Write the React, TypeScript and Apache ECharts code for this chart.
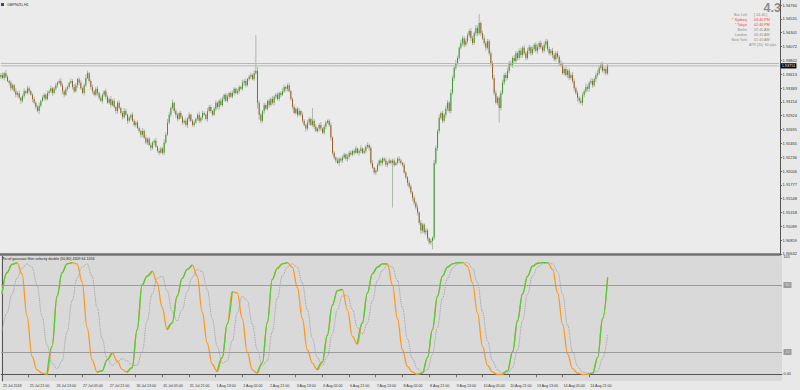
import React, { useEffect, useRef } from 'react';
import * as echarts from 'echarts';

// ---------- texts ----------
const symbolTitle = 'GBPNZD,H1';
const indicatorTitle = 'Rsi of gaussian filter velocity double (50,80) 4309 64.1094';
const versionText = '4.3';
const infoLabels = ['Bar Left', '* Sydney', '* Tokyo', 'Berlin', 'London', 'New York'];
const infoValues = ['[ 14:40 ]', '03:40 PM', '02:40 PM', '07:40 AM', '06:40 AM', '01:40 AM'];
const infoRed = [false, true, true, false, false, false];
const atrText = 'ATR (20): 60 pips';

// ---------- axes ----------
const timeLabels = ['25 Jul 2018', '25 Jul 21:00', '26 Jul 13:00', '27 Jul 05:00', '27 Jul 21:00', '30 Jul 13:00',
  '31 Jul 05:00', '31 Jul 21:00', '1 Aug 13:00', '2 Aug 05:00', '2 Aug 21:00', '3 Aug 13:00', '6 Aug 05:00',
  '6 Aug 21:00', '7 Aug 13:00', '8 Aug 05:00', '8 Aug 21:00', '9 Aug 13:00', '10 Aug 05:00', '10 Aug 21:00',
  '13 Aug 13:00', '14 Aug 05:00', '14 Aug 21:00'];
const barsPerLabel = 16;
const slotCount = 468;
const priceTicks = [1.94760, 1.94531, 1.94301, 1.94072, 1.93842, 1.93613, 1.93383, 1.93154, 1.92924, 1.92695,
  1.92465, 1.92236, 1.92006, 1.91777, 1.91548, 1.91318, 1.91089, 1.90859, 1.90632];
const priceMin = 1.90630;
const priceMax = 1.94843;
const indicatorTicks = [0, 20, 80, 105];
const indicatorLevels = [80, 20];
const indicatorMin = -6;
const indicatorMax = 106;

// ---------- price data (H1 bars) ----------
const firstOpen = 1.9356;
const closes = [
  1.9360, 1.9355, 1.9363, 1.9357, 1.9350, 1.9347, 1.9338, 1.9343, 1.9333, 1.9327, 1.9330, 1.9322,
  1.9317, 1.9325, 1.9333, 1.9330, 1.9338, 1.9333, 1.9327, 1.9320, 1.9314, 1.9307, 1.9300, 1.9309,
  1.9317, 1.9322, 1.9327, 1.9320, 1.9330, 1.9333, 1.9338, 1.9330, 1.9337, 1.9343, 1.9347, 1.9350,
  1.9343, 1.9333, 1.9327, 1.9337, 1.9340, 1.9347, 1.9350, 1.9340, 1.9333, 1.9343, 1.9353, 1.9347,
  1.9338, 1.9330, 1.9343, 1.9355, 1.9363, 1.9350, 1.9340, 1.9333, 1.9327, 1.9337, 1.9330, 1.9322,
  1.9317, 1.9327, 1.9333, 1.9324, 1.9314, 1.9320, 1.9310, 1.9317, 1.9307, 1.9300, 1.9314, 1.9305,
  1.9297, 1.9290, 1.9300, 1.9294, 1.9284, 1.9289, 1.9294, 1.9284, 1.9277, 1.9281, 1.9272, 1.9267,
  1.9261, 1.9267, 1.9256, 1.9248, 1.9254, 1.9244, 1.9239, 1.9248, 1.9251, 1.9241, 1.9234, 1.9231,
  1.9238, 1.9231, 1.9248, 1.9261, 1.9281, 1.9294, 1.9305, 1.9314, 1.9300, 1.9294, 1.9287, 1.9297,
  1.9290, 1.9281, 1.9284, 1.9277, 1.9287, 1.9294, 1.9284, 1.9277, 1.9281, 1.9287, 1.9294, 1.9284,
  1.9289, 1.9297, 1.9294, 1.9287, 1.9300, 1.9307, 1.9300, 1.9294, 1.9304, 1.9314, 1.9307, 1.9317,
  1.9310, 1.9320, 1.9327, 1.9317, 1.9324, 1.9330, 1.9324, 1.9330, 1.9337, 1.9330, 1.9333, 1.9340,
  1.9337, 1.9347, 1.9350, 1.9343, 1.9353, 1.9357, 1.9360, 1.9353, 1.9363, 1.9367, 1.9314, 1.9294,
  1.9284, 1.9300, 1.9310, 1.9304, 1.9317, 1.9310, 1.9320, 1.9314, 1.9324, 1.9327, 1.9320, 1.9330,
  1.9327, 1.9333, 1.9340, 1.9337, 1.9343, 1.9333, 1.9320, 1.9307, 1.9297, 1.9304, 1.9294, 1.9300,
  1.9294, 1.9284, 1.9277, 1.9271, 1.9281, 1.9287, 1.9277, 1.9284, 1.9274, 1.9267, 1.9271, 1.9277,
  1.9271, 1.9264, 1.9274, 1.9281, 1.9284, 1.9277, 1.9256, 1.9231, 1.9223, 1.9218, 1.9214, 1.9221,
  1.9218, 1.9223, 1.9228, 1.9221, 1.9224, 1.9231, 1.9228, 1.9234, 1.9231, 1.9238, 1.9231, 1.9234,
  1.9238, 1.9231, 1.9234, 1.9241, 1.9244, 1.9239, 1.9214, 1.9206, 1.9198, 1.9201, 1.9211, 1.9218,
  1.9214, 1.9221, 1.9218, 1.9211, 1.9214, 1.9218, 1.9214, 1.9218, 1.9211, 1.9214, 1.9221, 1.9218,
  1.9214, 1.9211, 1.9198, 1.9190, 1.9181, 1.9175, 1.9165, 1.9156, 1.9148, 1.9140, 1.9132, 1.9115,
  1.9102, 1.9112, 1.9099, 1.9102, 1.9089, 1.9082, 1.9085, 1.9090, 1.9214, 1.9239, 1.9267, 1.9289,
  1.9297, 1.9284, 1.9294, 1.9304, 1.9314, 1.9300, 1.9330, 1.9355, 1.9372, 1.9380, 1.9388, 1.9405,
  1.9413, 1.9421, 1.9410, 1.9416, 1.9426, 1.9433, 1.9421, 1.9413, 1.9429, 1.9438, 1.9429, 1.9446,
  1.9429, 1.9421, 1.9413, 1.9405, 1.9416, 1.9396, 1.9380, 1.9355, 1.9330, 1.9314, 1.9322, 1.9305,
  1.9330, 1.9347, 1.9360, 1.9355, 1.9367, 1.9380, 1.9377, 1.9388, 1.9383, 1.9396, 1.9388, 1.9400,
  1.9393, 1.9405, 1.9396, 1.9388, 1.9400, 1.9406, 1.9396, 1.9403, 1.9410, 1.9400, 1.9406, 1.9413,
  1.9406, 1.9400, 1.9410, 1.9416, 1.9403, 1.9396, 1.9400, 1.9393, 1.9386, 1.9396, 1.9390, 1.9380,
  1.9377, 1.9363, 1.9370, 1.9360, 1.9367, 1.9355, 1.9360, 1.9350, 1.9338, 1.9330, 1.9322, 1.9317,
  1.9314, 1.9327, 1.9333, 1.9340, 1.9337, 1.9347, 1.9350, 1.9343, 1.9353, 1.9360, 1.9363, 1.9372,
  1.9377, 1.9367, 1.9370, 1.9363, 1.93751,
];
// wick lengths in pips above / below the body
const upperWick = [
  3, 4, 2, 5, 3, 2, 4, 3, 2, 5, 3, 4, 2, 3, 5, 2, 4, 3, 2, 3,
  4, 2, 3, 5, 2, 4, 3, 2, 4, 3, 5, 2, 3, 4, 2, 3, 5, 4, 2, 3,
  3, 2, 4, 3, 5, 4, 2, 3, 4, 2, 3, 6, 4, 2, 3, 4, 2, 3, 5, 2,
  4, 3, 2, 4, 3, 2, 5, 3, 4, 2, 3, 4, 2, 3, 5, 4, 2, 3, 2, 4,
  3, 2, 4, 3, 2, 5, 3, 4, 2, 3, 4, 2, 3, 5, 2, 4, 3, 2, 5, 4,
  6, 4, 3, 5, 2, 4, 3, 2, 4, 3, 2, 5, 3, 4, 2, 3, 4, 2, 3, 5,
  2, 4, 3, 2, 5, 3, 4, 2, 3, 4, 2, 3, 5, 4, 2, 3, 4, 2, 3, 4,
  3, 2, 4, 3, 2, 5, 3, 4, 2, 3, 4, 2, 5, 59, 6, 4, 3, 2, 4, 3,
  2, 4, 3, 5, 2, 3, 4, 2, 3, 5, 4, 2, 3, 4, 2, 3, 4, 2, 3, 5,
  2, 4, 3, 2, 4, 3, 2, 21, 3, 4, 2, 3, 5, 2, 4, 3, 2, 3, 4, 2,
  3, 2, 4, 3, 2, 4, 3, 2, 5, 3, 4, 2, 3, 4, 2, 3, 5, 2, 4, 3,
  4, 2, 3, 5, 2, 4, 3, 2, 4, 3, 2, 5, 3, 4, 2, 3, 4, 2, 3, 4,
  3, 2, 4, 3, 2, 4, 3, 2, 4, 3, 5, 2, 4, 3, 2, 4, 3, 2, 3, 2,
  5, 4, 3, 5, 2, 4, 3, 5, 4, 3, 6, 4, 3, 5, 4, 3, 6, 4, 3, 5,
  4, 3, 5, 4, 3, 5, 4, 15, 3, 4, 5, 3, 4, 3, 4, 3, 5, 4, 3, 4,
  4, 5, 3, 4, 5, 3, 4, 3, 5, 4, 3, 4, 5, 3, 4, 3, 5, 4, 3, 4,
  3, 4, 5, 3, 4, 3, 5, 4, 3, 4, 3, 5, 4, 3, 4, 3, 5, 4, 3, 4,
  3, 4, 3, 5, 4, 3, 4, 3, 5, 4, 3, 6, 4, 3, 5, 4, 3, 4, 6, 3,
  4, 5, 3, 4, 3,
];
const lowerWick = [
  3, 2, 4, 3, 2, 4, 5, 3, 2, 4, 3, 2, 5, 3, 4, 2, 3, 4, 2, 5,
  3, 4, 2, 5, 3, 2, 4, 3, 2, 4, 3, 5, 2, 3, 4, 2, 3, 5, 4, 2,
  4, 3, 2, 4, 3, 2, 5, 4, 3, 2, 4, 3, 2, 3, 5, 4, 2, 3, 4, 3,
  2, 4, 3, 5, 2, 3, 4, 2, 3, 5, 4, 2, 3, 4, 3, 2, 5, 3, 4, 2,
  3, 4, 2, 3, 5, 4, 2, 3, 4, 2, 5, 3, 4, 2, 3, 4, 2, 3, 4, 3,
  2, 3, 4, 2, 3, 5, 4, 2, 3, 4, 2, 3, 5, 4, 2, 3, 4, 2, 3, 4,
  3, 4, 2, 3, 5, 2, 4, 3, 2, 4, 3, 5, 2, 3, 4, 2, 3, 4, 2, 3,
  4, 2, 3, 4, 2, 3, 5, 4, 2, 3, 4, 2, 3, 3, 10, 8, 4, 3, 5, 2,
  3, 4, 2, 3, 5, 4, 2, 3, 4, 2, 3, 5, 4, 2, 3, 4, 2, 3, 4, 2,
  3, 4, 2, 5, 3, 4, 2, 3, 4, 2, 3, 5, 4, 2, 3, 4, 2, 3, 5, 4,
  3, 4, 2, 5, 3, 4, 2, 3, 5, 4, 2, 3, 4, 2, 3, 5, 4, 2, 3, 4,
  3, 5, 4, 2, 3, 4, 2, 3, 5, 4, 2, 3, 4, 2, 3, 74, 4, 2, 3, 4,
  3, 4, 2, 3, 5, 4, 3, 5, 4, 3, 5, 4, 6, 4, 3, 5, 4, 3, 4, 14,
  4, 3, 5, 4, 3, 4, 3, 5, 4, 3, 4, 3, 5, 4, 3, 4, 3, 5, 4, 3,
  4, 3, 5, 4, 3, 4, 5, 3, 4, 3, 4, 5, 3, 4, 5, 3, 4, 3, 4, 24,
  4, 3, 4, 5, 3, 4, 3, 5, 4, 3, 4, 3, 5, 4, 3, 4, 3, 5, 4, 3,
  4, 3, 5, 4, 3, 4, 3, 5, 4, 3, 4, 5, 3, 4, 3, 5, 4, 3, 4, 3,
  5, 4, 3, 4, 5, 3, 6, 4, 3, 5, 4, 3, 4, 5, 3, 4, 3, 5, 4, 3,
  4, 3, 5, 4, 3,
];
const pip = 0.0001;
const bidPrice = 1.93751;
const askPrice = 1.93790;

// ---------- indicator data (one value every 3 bars) ----------
const rsiStep = 3;
const rsiMain = [
  72, 91, 98.5, 100, 90, 52, 16, 4, 1, 0,
  25, 70, 91, 99, 100, 99, 83, 42, 13, 2,
  3, 13, 19.5, 12, 4.5, 2, 6, 40, 80, 88,
  92.5, 82, 60, 40, 46, 70, 86, 94, 98, 88,
  56, 28, 9, 2.5, 15, 45, 74, 73, 50, 20,
  4, 1, 10, 46, 85, 95, 99, 100, 96, 78,
  50, 22, 10, 4, 11, 35, 62, 75, 76, 58,
  34, 27, 46, 73, 90, 96, 99, 99, 80, 50,
  22, 7, 2, 0, 1, 15, 40, 70, 88, 96,
  99, 100, 100, 97, 82, 55, 25, 8, 2, 0,
  0, 3, 20, 48, 72, 88, 97, 99.5, 100, 100,
  94, 73, 45, 18, 5, 1, 0, 0, 1, 15,
  50, 87,
];
const rsiSignal = [
  38, 55, 72, 86, 95, 99, 96, 80, 52, 26,
  10, 5, 12, 38, 66, 86, 96, 99, 88, 60,
  32, 14, 8, 11, 14, 12, 8, 8, 20, 48,
  72, 86, 88, 75, 56, 48, 58, 74, 87, 94,
  92, 76, 50, 25, 10, 12, 30, 55, 70, 66,
  45, 22, 8, 12, 38, 68, 88, 96, 99, 96,
  82, 58, 32, 15, 8, 16, 36, 58, 70, 71,
  58, 42, 36, 46, 66, 84, 93, 98, 96, 84,
  60, 32, 14, 5, 2, 4, 18, 42, 68, 86,
  95, 99, 100, 100, 95, 82, 56, 30, 12, 4,
  1, 1, 6, 22, 48, 72, 88, 96, 99, 100,
  99, 92, 72, 44, 20, 7, 2, 1, 1, 3,
  14, 36,
];

// ---------- styles ----------
const FONT = '"Liberation Sans", Arial, sans-serif';
const bullColor = '#3f9a2f';
const bearColor = '#9e5f27';
const wickColor = '#a3b59f';
const upLineColor = '#4ccf3c';
const downLineColor = '#ff9a1e';

export default function App() {
  const ref = useRef<HTMLDivElement>(null);

  useEffect(() => {
    document.body.style.margin = '0';
    const chart = echarts.init(ref.current!, undefined, { renderer: 'svg' });

    const categories = Array.from({ length: slotCount }, (_, i) => String(i));
    const isLabelSlot = (i: number) => i % barsPerLabel === 0 && i / barsPerLabel < timeLabels.length;

    const candles = closes.map((c, i) => {
      const o = i === 0 ? firstOpen : closes[i - 1];
      const h = Math.max(o, c) + (upperWick[i] || 0) * pip;
      const l = Math.min(o, c) - (lowerWick[i] || 0) * pip;
      return [i, o, c, l, h];
    });

    const mainPts = rsiMain.map((v, k) => [k * rsiStep, v]);
    const dirs: boolean[] = [];
    let prev = true;
    for (let k = 0; k < rsiMain.length - 1; k++) {
      const d = rsiMain[k + 1] > rsiMain[k] ? true : rsiMain[k + 1] < rsiMain[k] ? false : prev;
      dirs.push(d);
      prev = d;
    }
    const greenPts = rsiMain.map((v, k) =>
      (dirs[k - 1] === true || dirs[k] === true) ? [k * rsiStep, v] : [k * rsiStep, '-']);
    const signalPts = rsiSignal.map((v, k) => [k * rsiStep, v]);

    const graphic: any[] = [
      { type: 'rect', shape: { x: 1, y: 3, width: 3, height: 3 }, style: { fill: '#4a4a4a' } },
      { type: 'text', x: 7, y: 4.5, style: { text: symbolTitle, fontSize: 3.8, fill: '#333', verticalAlign: 'middle', fontFamily: FONT } },
      { type: 'text', x: 2, y: 259, style: { text: indicatorTitle, fontSize: 3.6, fill: '#222', verticalAlign: 'middle', fontFamily: FONT } },
      { type: 'text', x: 781, y: 7.5, style: { text: versionText, fontSize: 12.5, fontWeight: 'bold', fill: '#8c8c8c', align: 'right', verticalAlign: 'middle', fontFamily: FONT } },
      { type: 'text', x: 749, y: 45, style: { text: atrText, fontSize: 3.5, fill: '#8c8c8c', verticalAlign: 'middle', fontFamily: FONT } },
    ];
    infoLabels.forEach((lab, k) => {
      const fill = infoRed[k] ? '#ff3c3c' : '#8c8c8c';
      graphic.push({ type: 'text', x: 747, y: 15 + k * 5, style: { text: lab, fontSize: 3.7, fill, align: 'right', verticalAlign: 'middle', fontFamily: FONT } });
      graphic.push({ type: 'text', x: 754, y: 15 + k * 5, style: { text: infoValues[k], fontSize: 3.7, fill, verticalAlign: 'middle', fontFamily: FONT } });
    });

    const flat = (v: number) => categories.map(() => v);

    const option: any = {
      animation: false,
      backgroundColor: '#e8e8e8',
      textStyle: { fontFamily: FONT },
      grid: [
        { left: 0, top: 0, width: 782, height: 254, show: true, backgroundColor: '#ebebeb', borderWidth: 0 },
        { left: 0, top: 256, width: 782, height: 125, show: true, backgroundColor: '#d9d9d9', borderWidth: 0 },
      ],
      xAxis: [
        {
          type: 'category', gridIndex: 0, data: categories, boundaryGap: true,
          axisLine: { show: true, lineStyle: { color: '#707070', width: 2.5 } },
          axisTick: { show: false }, axisLabel: { show: false }, splitLine: { show: false },
        },
        {
          type: 'category', gridIndex: 1, data: categories, boundaryGap: true,
          axisLine: { show: true, lineStyle: { color: '#555', width: 1 } },
          axisTick: { show: true, interval: (i: number) => isLabelSlot(i), alignWithLabel: true, length: 3, lineStyle: { color: '#555', width: 0.8 } },
          axisLabel: {
            show: true, interval: (i: number) => isLabelSlot(i),
            formatter: (v: string) => timeLabels[Number(v) / barsPerLabel] ?? '',
            align: 'left', fontSize: 3.6, color: '#333', margin: 2.5, padding: [0, 0, 0, 1],
          },
          splitLine: { show: false },
        },
        { type: 'value', gridIndex: 1, min: -0.5, max: slotCount - 0.5, show: false },
      ],
      yAxis: [
        {
          type: 'value', gridIndex: 0, position: 'right', min: priceMin, max: priceMax,
          axisLine: { show: true, lineStyle: { color: '#555', width: 1 } },
          axisTick: { show: true, customValues: priceTicks, length: 2, lineStyle: { color: '#555', width: 0.8 } },
          axisLabel: { customValues: priceTicks, formatter: (v: number) => v.toFixed(5), fontSize: 4, color: '#333', margin: 2.5 },
          splitLine: { show: false },
        },
        {
          type: 'value', gridIndex: 1, position: 'right', min: indicatorMin, max: indicatorMax,
          axisLine: { show: true, lineStyle: { color: '#555', width: 1 } },
          axisTick: { show: true, customValues: [0, 105], length: 2, lineStyle: { color: '#555', width: 0.8 } },
          axisLabel: {
            customValues: indicatorTicks,
            formatter: (v: number) => v === 0 ? '0.00' : v === 105 ? '105' : '{box|' + v + '}',
            fontSize: 3.8, color: '#333', margin: 1.5,
            rich: { box: { backgroundColor: '#9d9d9d', color: '#dedede', fontSize: 3.6, padding: [1, 2, 1, 2] } },
          },
          splitLine: { show: false },
        },
      ],
      series: [
        {
          type: 'line', name: 'ask', xAxisIndex: 0, yAxisIndex: 0, data: flat(askPrice),
          showSymbol: false, silent: true, lineStyle: { color: '#b4b4b4', width: 1 },
        },
        {
          type: 'line', name: 'bid', xAxisIndex: 0, yAxisIndex: 0, data: flat(bidPrice),
          showSymbol: false, silent: true, lineStyle: { color: '#b4b4b4', width: 1 },
          endLabel: {
            show: true, formatter: bidPrice.toFixed(5), distance: 1.5,
            backgroundColor: '#000', color: '#fff', fontSize: 3.8, padding: [0.6, 1, 0.6, 1],
          },
        },
        {
          type: 'custom', name: 'price', xAxisIndex: 0, yAxisIndex: 0,
          data: candles, encode: { x: 0, y: [1, 2, 3, 4] },
          renderItem: (_p: any, api: any) => {
            const idx = api.value(0);
            const o = api.value(1), c = api.value(2), l = api.value(3), h = api.value(4);
            const pO = api.coord([idx, o]);
            const pC = api.coord([idx, c]);
            const pL = api.coord([idx, l]);
            const pH = api.coord([idx, h]);
            const x = pO[0];
            const bw = Math.max(1, api.size([1, 0])[0] * 0.62);
            const top = Math.min(pO[1], pC[1]);
            const hgt = Math.max(0.8, Math.abs(pO[1] - pC[1]));
            return {
              type: 'group',
              children: [
                { type: 'line', shape: { x1: x, y1: pH[1], x2: x, y2: pL[1] }, style: { stroke: wickColor, lineWidth: 0.9 } },
                { type: 'rect', shape: { x: x - bw / 2, y: top, width: bw, height: hgt }, style: { fill: c >= o ? bullColor : bearColor } },
              ],
            };
          },
        },
        {
          type: 'line', name: 'signal', xAxisIndex: 2, yAxisIndex: 1, data: signalPts,
          smooth: 0.4, smoothMonotone: 'x', showSymbol: false, silent: true,
          lineStyle: { color: '#9a9a9a', width: 0.9, type: 'dotted' },
          markLine: {
            silent: true, symbol: 'none', animation: false, label: { show: false },
            lineStyle: { color: '#9c9c9c', width: 1, type: 'solid' },
            data: indicatorLevels.map((v) => ({ yAxis: v })),
          },
        },
        {
          type: 'line', name: 'down', xAxisIndex: 2, yAxisIndex: 1, data: mainPts,
          smooth: 0.4, smoothMonotone: 'x', showSymbol: false, silent: true,
          lineStyle: { color: downLineColor, width: 1.3 },
        },
        {
          type: 'line', name: 'up', xAxisIndex: 2, yAxisIndex: 1, data: greenPts,
          smooth: 0.4, smoothMonotone: 'x', showSymbol: false, silent: true, connectNulls: false,
          lineStyle: { color: upLineColor, width: 1.3 },
        },
      ],
      graphic,
    };

    chart.setOption(option);
    return () => chart.dispose();
  }, []);

  return <div ref={ref} style={{ position: 'absolute', left: 0, top: 0, width: 800, height: 390 }} />;
}
